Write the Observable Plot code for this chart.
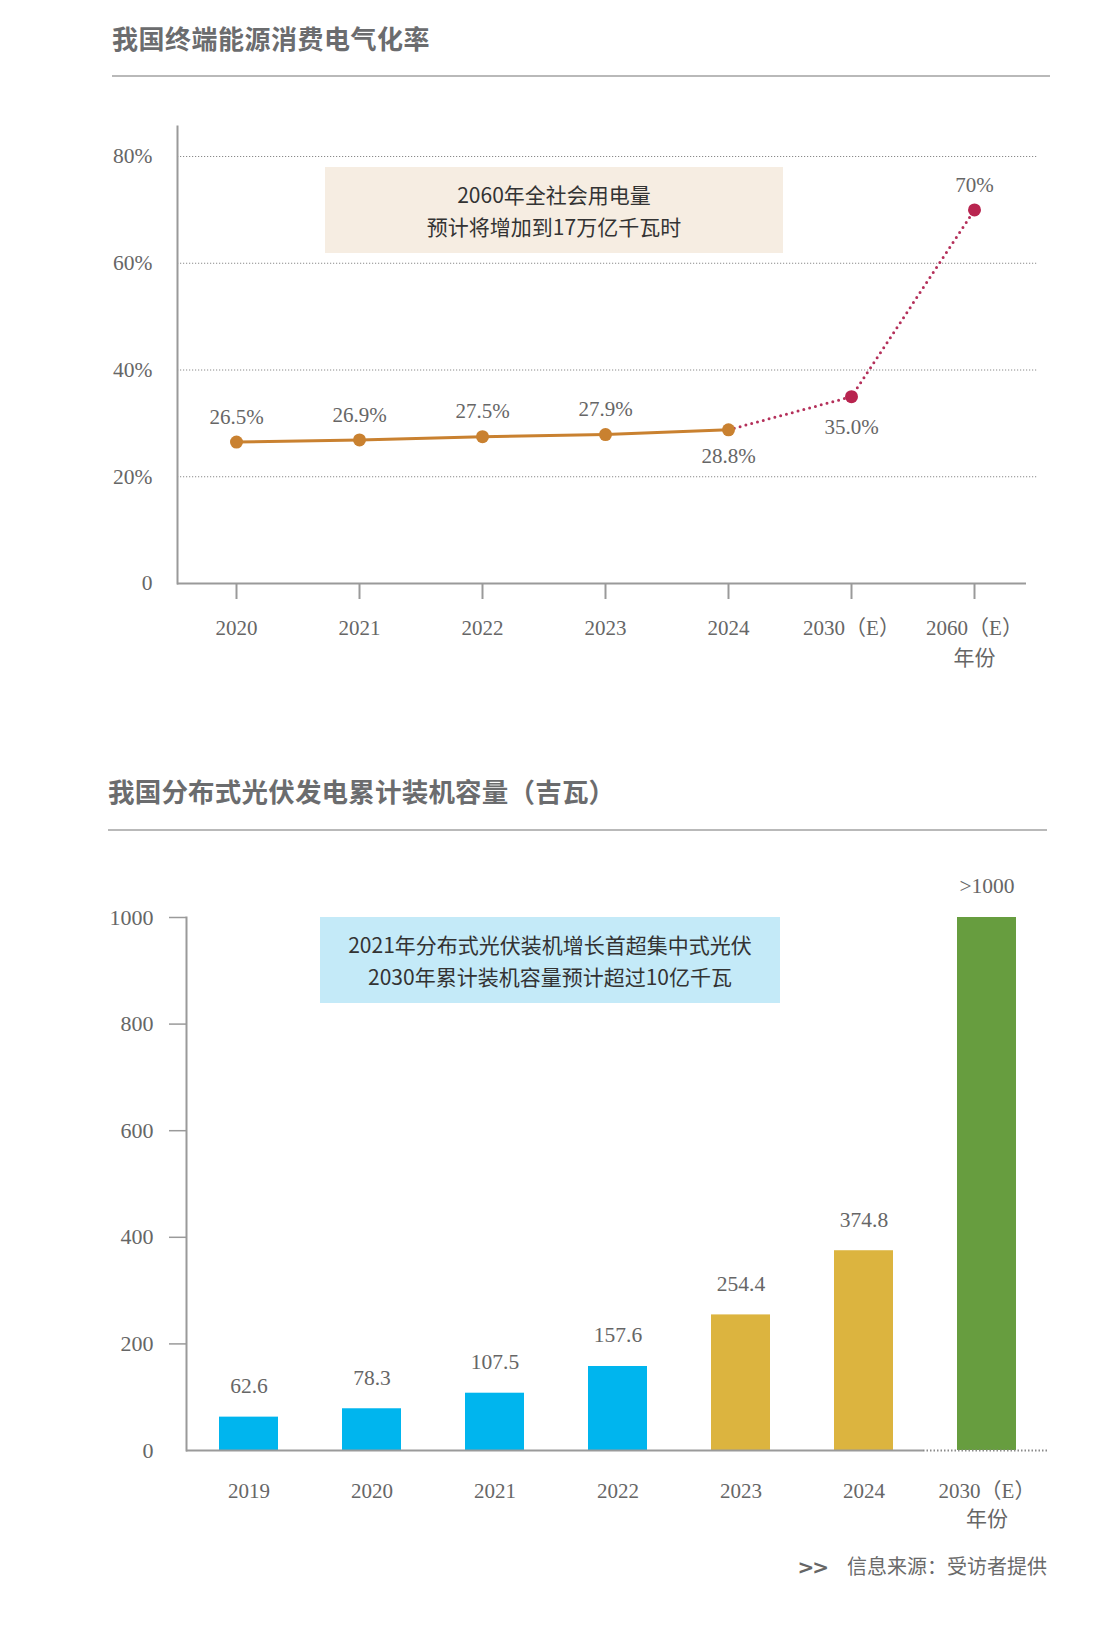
<!DOCTYPE html>
<html>
<head>
<meta charset="utf-8">
<script src="https://cdn.jsdelivr.net/npm/d3@7"></script>
<script src="https://cdn.jsdelivr.net/npm/@observablehq/plot@0.6"></script>
<style>
  html, body { margin: 0; padding: 0; background: #fff; }
  #page { position: relative; width: 1107px; height: 1625px; overflow: hidden; font-family: "Noto Sans CJK SC", sans-serif; }
  .title { position: absolute; font-weight: 700; color: #6b6c6e; white-space: nowrap; line-height: 1; }
  .rule { position: absolute; height: 2px; background: #b9b9b9; }
  .box { position: absolute; display: flex; flex-direction: column; justify-content: center; align-items: center; color: #333; font-size: 21px; line-height: 32px; white-space: nowrap; }
  .chart { position: absolute; left: 0; }
  #source { position: absolute; right: 60px; top: 1551px; color: #6a6a6a; font-size: 20px; white-space: nowrap; }
  #source b { font-family: "DejaVu Sans", sans-serif; font-weight: 700; margin-right: 20px; color: #666; letter-spacing: -2px; }
</style>
</head>
<body>
<div id="page">
  <div class="title" id="t1" style="left:112px; top:25px; font-size:26px; letter-spacing:0.5px;"></div>
  <div class="rule" style="left:112px; top:75px; width:938px;"></div>
  <div class="chart" id="c1" style="top:100px;"></div>
  <div class="box" id="b1" style="left:325px; top:167px; width:458px; height:86px; background:#f6ede2;"></div>

  <div class="title" id="t2" style="left:108px; top:778px; font-size:26.5px; letter-spacing:0.2px;"></div>
  <div class="rule" style="left:108px; top:829px; width:939px;"></div>
  <div class="chart" id="c2" style="top:850px;"></div>
  <div class="box" id="b2" style="left:320px; top:917px; width:460px; height:86px; background:#c4eaf8;"></div>

  <div id="source"><b>&gt;&gt;</b>信息来源：受访者提供</div>
</div>
<script>
// ---------- Data: chart 1 ----------
const title1 = "我国终端能源消费电气化率";
const years1 = ["2020", "2021", "2022", "2023", "2024", "2030（E）", "2060（E）"];
const rate1 = [26.5, 26.9, 27.5, 27.9, 28.8, 35.0, 70];
const rateLabels1 = ["26.5%", "26.9%", "27.5%", "27.9%", "28.8%", "35.0%", "70%"];
const yTicks1 = [0, 20, 40, 60, 80];
const note1 = ["2060年全社会用电量", "预计将增加到17万亿千瓦时"];
const axisName = "年份";

// ---------- Data: chart 2 ----------
const title2 = "我国分布式光伏发电累计装机容量（吉瓦）";
const years2 = ["2019", "2020", "2021", "2022", "2023", "2024", "2030（E）"];
const capacity2 = [62.6, 78.3, 107.5, 157.6, 254.4, 374.8, 1000];
const capLabels2 = ["62.6", "78.3", "107.5", "157.6", "254.4", "374.8", ">1000"];
const yTicks2 = [0, 200, 400, 600, 800, 1000];
const note2 = ["2021年分布式光伏装机增长首超集中式光伏", "2030年累计装机容量预计超过10亿千瓦"];

// ---------- Text blocks ----------
document.getElementById("t1").textContent = title1;
document.getElementById("t2").textContent = title2;
document.getElementById("b1").innerHTML = note1.map(s => `<div>${s}</div>`).join("");
document.getElementById("b2").innerHTML = note2.map(s => `<div>${s}</div>`).join("");

const serif = "'Liberation Serif', 'Noto Sans CJK SC', serif";
const gray = "#666";
const axisGray = "#9a9a9a";

// ---------- Chart 1 ----------
const d1 = years1.map((y, i) => ({year: y, value: rate1[i], label: rateLabels1[i]}));
const actual = d1.slice(0, 5);
const forecast = d1.slice(4);
const lastYear1 = years1[years1.length - 1];
const labelsAbove = d1.filter(d => d.year !== "2024" && d.year !== "2030（E）");
const label2024 = d1.filter(d => d.year === "2024");
const label2030 = d1.filter(d => d.year === "2030（E）");

const chart1 = Plot.plot({
  width: 1107,
  height: 580,
  marginLeft: 177,
  marginRight: 69,
  marginTop: 26,
  marginBottom: 97,
  style: {fontFamily: serif, fontSize: "21px", background: "transparent", overflow: "visible"},
  x: {type: "point", domain: years1, range: [234, 976], padding: 0, label: null},
  y: {domain: [0, 80], range: [483, 56], label: null},
  marks: [
    Plot.gridY(yTicks1.slice(1), {stroke: "#8a8a8a", strokeOpacity: 1, strokeWidth: 1, strokeDasharray: "1.2,1.8"}),
    Plot.frame({anchor: "left", stroke: axisGray, strokeWidth: 2}),
    Plot.ruleY([0], {stroke: axisGray, strokeWidth: 2, insetRight: 12}),
    Plot.axisY({ticks: yTicks1, tickSize: 0, tickPadding: 25, fontSize: 21.5, fill: gray, label: null,
      tickFormat: d => d === 0 ? "0" : d + "%"}),
    Plot.axisX({tickSize: 16, tickPadding: 15, fontSize: 21, stroke: axisGray, strokeWidth: 2, fill: gray, label: null,
      lineHeight: 1.4, tickFormat: d => d === lastYear1 ? d + "\n" + axisName : d}),
    Plot.line(actual, {x: "year", y: "value", stroke: "#c98130", strokeWidth: 3}),
    Plot.line(forecast, {x: "year", y: "value", stroke: "#b4305a", strokeWidth: 3, strokeDasharray: "0,6", strokeLinecap: "round"}),
    Plot.dot(actual, {x: "year", y: "value", r: 6.5, fill: "#c98130"}),
    Plot.dot(forecast.slice(1), {x: "year", y: "value", r: 6.5, fill: "#b8244f"}),
    Plot.text(labelsAbove, {x: "year", y: "value", text: "label", fill: gray, fontSize: 21, dy: -25}),
    Plot.text(label2024, {x: "year", y: "value", text: "label", fill: gray, fontSize: 21, dy: 26}),
    Plot.text(label2030, {x: "year", y: "value", text: "label", fill: gray, fontSize: 21, dy: 31})
  ]
});
document.getElementById("c1").append(chart1);

// ---------- Chart 2 ----------
const d2 = years2.map((y, i) => ({year: y, value: capacity2[i], label: capLabels2[i]}));
const lastYear2 = years2[years2.length - 1];
const barColor = y => {
  const i = years2.indexOf(y);
  return i < 4 ? "#00b5ee" : i < 6 ? "#dcb43f" : "#679d3f";
};

const chart2 = Plot.plot({
  width: 1107,
  height: 700,
  marginLeft: 186,
  marginRight: 58,
  marginTop: 67,
  marginBottom: 100,
  style: {fontFamily: serif, fontSize: "21px", background: "transparent", overflow: "visible"},
  x: {type: "band", domain: years2, paddingInner: 0.52, paddingOuter: 0.26, label: null},
  y: {domain: [0, 1000], label: null},
  marks: [
    Plot.barY(d2, {x: "year", y: "value", fill: d => barColor(d.year)}),
    Plot.frame({anchor: "left", stroke: axisGray, strokeWidth: 2}),
    Plot.ruleY([0], {stroke: axisGray, strokeWidth: 2, insetRight: 126}),
    Plot.ruleY([0], {stroke: "#8a8a8a", strokeWidth: 2, insetLeft: 737, strokeDasharray: "1.5,2"}),
    Plot.axisY({ticks: yTicks2.slice(1), tickSize: 17, tickPadding: 16, fontSize: 22, stroke: axisGray, strokeWidth: 1.5, fill: gray,
      label: null, tickFormat: d => String(d)}),
    Plot.axisY({ticks: [0], tickSize: 0, tickPadding: 33, fontSize: 22, fill: gray, label: null, tickFormat: d => String(d)}),
    Plot.axisX({tickSize: 0, tickPadding: 27, fontSize: 21, fill: gray, lineHeight: 1.35, label: null,
      tickFormat: d => d === lastYear2 ? d + "\n" + axisName : d}),
    Plot.text(d2, {x: "year", y: "value", text: "label", fill: gray, fontSize: 21.5, dy: -31})
  ]
});
document.getElementById("c2").append(chart2);
</script>
</body>
</html>
